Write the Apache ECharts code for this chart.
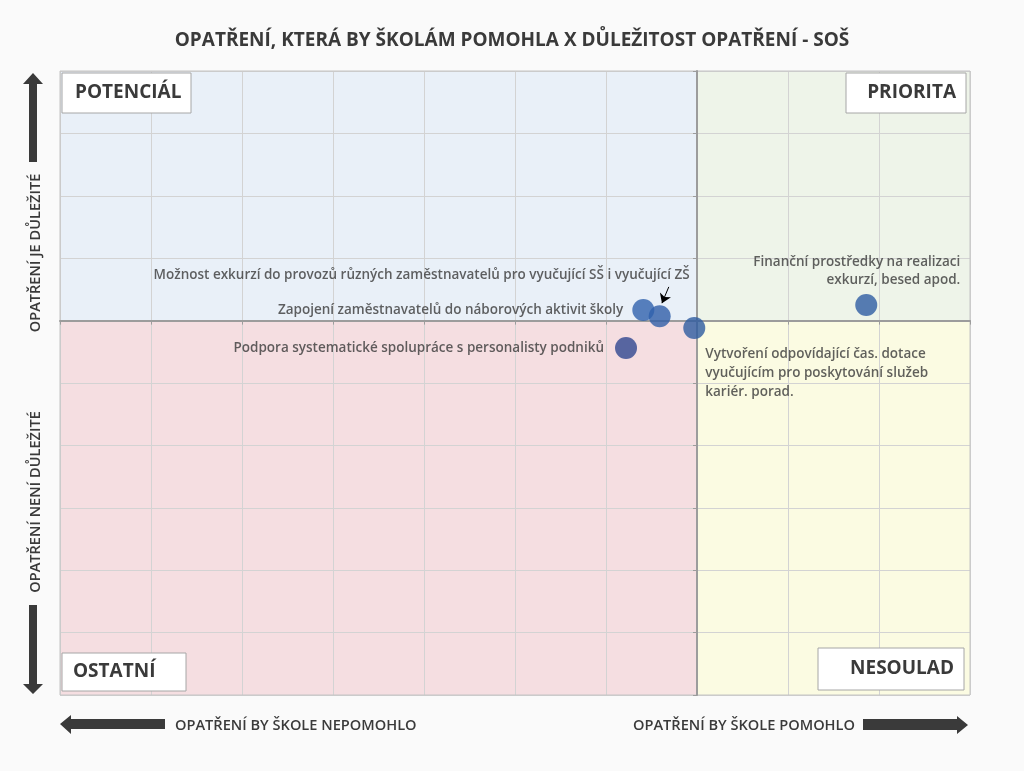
<!DOCTYPE html>
<html><head><meta charset="utf-8">
<script src="https://cdn.jsdelivr.net/npm/echarts@6/dist/echarts.min.js"></script>
<style>html,body{margin:0;padding:0;background:#fafafa}#c{width:1024px;height:771px}</style>
</head><body><div id="c"></div><script>
// ---- data ----
const titleText = 'OPATŘENÍ, KTERÁ BY ŠKOLÁM POMOHLA X DŮLEŽITOST OPATŘENÍ - SOŠ';
const names = [
  'Finanční prostředky na realizaci\nexkurzí, besed apod.',
  'Možnost exkurzí do provozů různých zaměstnavatelů pro vyučující SŠ i vyučující ZŠ',
  'Zapojení zaměstnavatelů do náborových aktivit školy',
  'Vytvoření odpovídající čas. dotace\nvyučujícím pro poskytování služeb\nkariér. porad.',
  'Podpora systematické spolupráce s personalisty podniků'
];
const xValues = [8.86, 6.59, 6.41, 6.97, 6.22];
const yValues = [6.25, 6.07, 6.17, 5.88, 5.56];
const pointColors = ['#2E5DA3', '#2F5EA7', '#3061AC', '#2E5BA0', '#2F4690'];
const xSplit = 7, ySplit = 6;
const axisMin = 0, axisMax = 10, axisStep = 1;
const quadrantNames = ['POTENCIÁL', 'PRIORITA', 'OSTATNÍ', 'NESOULAD'];
const yAxisTexts = ['OPATŘENÍ JE DŮLEŽITÉ', 'OPATŘENÍ NENÍ DŮLEŽITÉ'];
const xAxisTexts = ['OPATŘENÍ BY ŠKOLE NEPOMOHLO', 'OPATŘENÍ BY ŠKOLE POMOHLO'];
const arrowFrom = [6.69, 6.54], arrowTo = [6.615, 6.28];

// ---- layout ----
const FONT = 'Open Sans';
const TXT = '#3a3a3a';
const labelLayouts = [
  {position: 'top', align: 'right', offset: [94, 0]},
  {position: 'top', align: 'right', offset: [30, -16]},
  {position: 'left', distance: 9},
  {position: 'bottom', align: 'left', offset: [11, 1], lineHeight: 19},
  {position: 'left', distance: 11}
];

const points = names.map((n, i) => ({
  name: n,
  value: [xValues[i], yValues[i]],
  itemStyle: {color: pointColors[i]},
  label: Object.assign({show: true, formatter: '{b}', color: TXT, fontFamily: FONT, fontSize: 13.5, fontWeight: 600, lineHeight: 18}, labelLayouts[i])
}));

function boxRect(x, y, w, h) {
  return {type: 'rect', z: 20, shape: {x: x, y: y, width: w, height: h}, style: {fill: '#ffffff', stroke: '#a6a6a6', lineWidth: 1}};
}
function boxText(x, y, text, align) {
  return {type: 'text', z: 21, x: x, y: y,
    style: {text: text, fill: TXT, fontFamily: FONT, fontSize: 19, fontWeight: 'bold', align: align, verticalAlign: 'middle'}};
}
function plainText(x, y, text, align, rot) {
  return {type: 'text', z: 21, x: x, y: y, rotation: rot || 0,
    style: {text: text, fill: TXT, fontFamily: FONT, fontSize: 14.6, fontWeight: 600, align: align, verticalAlign: 'middle'}};
}

const chart = echarts.init(document.getElementById('c'), null, {renderer: 'canvas'});
chart.setOption({
  backgroundColor: '#fafafa',
  animation: false,
  title: {text: titleText, left: 'center', top: 26,
    textStyle: {fontFamily: FONT, fontSize: 19, fontWeight: 'bold', color: TXT}},
  grid: {left: 60, right: 54, top: 71, bottom: 76, show: true, borderColor: '#c4c4c4', borderWidth: 1, backgroundColor: 'transparent', z: 4},
  xAxis: [
    {type: 'value', min: axisMin, max: axisMax, interval: axisStep, z: 3,
      axisLine: {show: false}, axisTick: {show: false}, axisLabel: {show: false},
      splitLine: {show: true, lineStyle: {color: '#d3d3d3', width: 1}}},
    {type: 'value', min: axisMin - xSplit, max: axisMax - xSplit, interval: axisStep, z: 5, position: 'bottom',
      axisLine: {show: true, onZero: true, onZeroAxisIndex: 1, lineStyle: {color: '#9c9c9c', width: 2}},
      axisTick: {show: true, length: 4, lineStyle: {color: '#9c9c9c', width: 1}},
      axisLabel: {show: false}, splitLine: {show: false}}
  ],
  yAxis: [
    {type: 'value', min: axisMin, max: axisMax, interval: axisStep, z: 3,
      axisLine: {show: false}, axisTick: {show: false}, axisLabel: {show: false},
      splitLine: {show: true, lineStyle: {color: '#d3d3d3', width: 1}}},
    {type: 'value', min: axisMin - ySplit, max: axisMax - ySplit, interval: axisStep, z: 5, position: 'left',
      axisLine: {show: true, onZero: true, onZeroAxisIndex: 1, lineStyle: {color: '#9c9c9c', width: 2}},
      axisTick: {show: true, length: 4, lineStyle: {color: '#9c9c9c', width: 1}},
      axisLabel: {show: false}, splitLine: {show: false}}
  ],
  series: [
    {type: 'scatter', data: [], z: 1, silent: true,
     markArea: {silent: true, data: [
       [{coord: [axisMin, ySplit], itemStyle: {color: '#E9F0F8'}}, {coord: [xSplit, axisMax]}],
       [{coord: [xSplit, ySplit], itemStyle: {color: '#EEF4E9'}}, {coord: [axisMax, axisMax]}],
       [{coord: [axisMin, axisMin], itemStyle: {color: '#F5DEE1'}}, {coord: [xSplit, ySplit]}],
       [{coord: [xSplit, axisMin], itemStyle: {color: '#FBFBE2'}}, {coord: [axisMax, ySplit]}]
     ]}},
    {type: 'scatter', z: 6, symbolSize: 22, data: points,
     markLine: {silent: true, symbol: ['none', 'none'], label: {show: false},
       data: [
         [{coord: arrowFrom, symbol: 'none', lineStyle: {color: '#000', width: 1, type: 'solid'}},
          {coord: arrowTo, symbol: 'arrow', symbolSize: 9}]
       ]}}
  ],
  graphic: [
    {type: 'polygon', z: 20, shape: {points: [[33,73],[43,84],[37,84],[37,162],[29,162],[29,84],[23,84]]}, style: {fill: TXT}},
    {type: 'polygon', z: 20, shape: {points: [[29,605],[37,605],[37,684],[43,684],[33,694],[23,684],[29,684]]}, style: {fill: TXT}},
    {type: 'polygon', z: 20, shape: {points: [[60,724],[71,715],[71,719],[165,719],[165,729],[71,729],[71,734]]}, style: {fill: TXT}},
    {type: 'polygon', z: 20, shape: {points: [[863,719],[957,719],[957,716],[968,725],[957,734],[957,730],[863,730]]}, style: {fill: TXT}},
    plainText(36, 253, yAxisTexts[0], 'center', Math.PI / 2),
    plainText(36, 502, yAxisTexts[1], 'center', Math.PI / 2),
    plainText(175, 726, xAxisTexts[0], 'left'),
    plainText(855, 726, xAxisTexts[1], 'right'),
    boxRect(62, 73, 129, 40), boxText(75, 93, quadrantNames[0], 'left'),
    boxRect(846, 73, 120, 40), boxText(956, 93, quadrantNames[1], 'right'),
    boxRect(62, 653, 124, 38), boxText(73, 672, quadrantNames[2], 'left'),
    boxRect(818, 648, 146, 42), boxText(954, 669, quadrantNames[3], 'right')
  ]
});
</script></body></html>
